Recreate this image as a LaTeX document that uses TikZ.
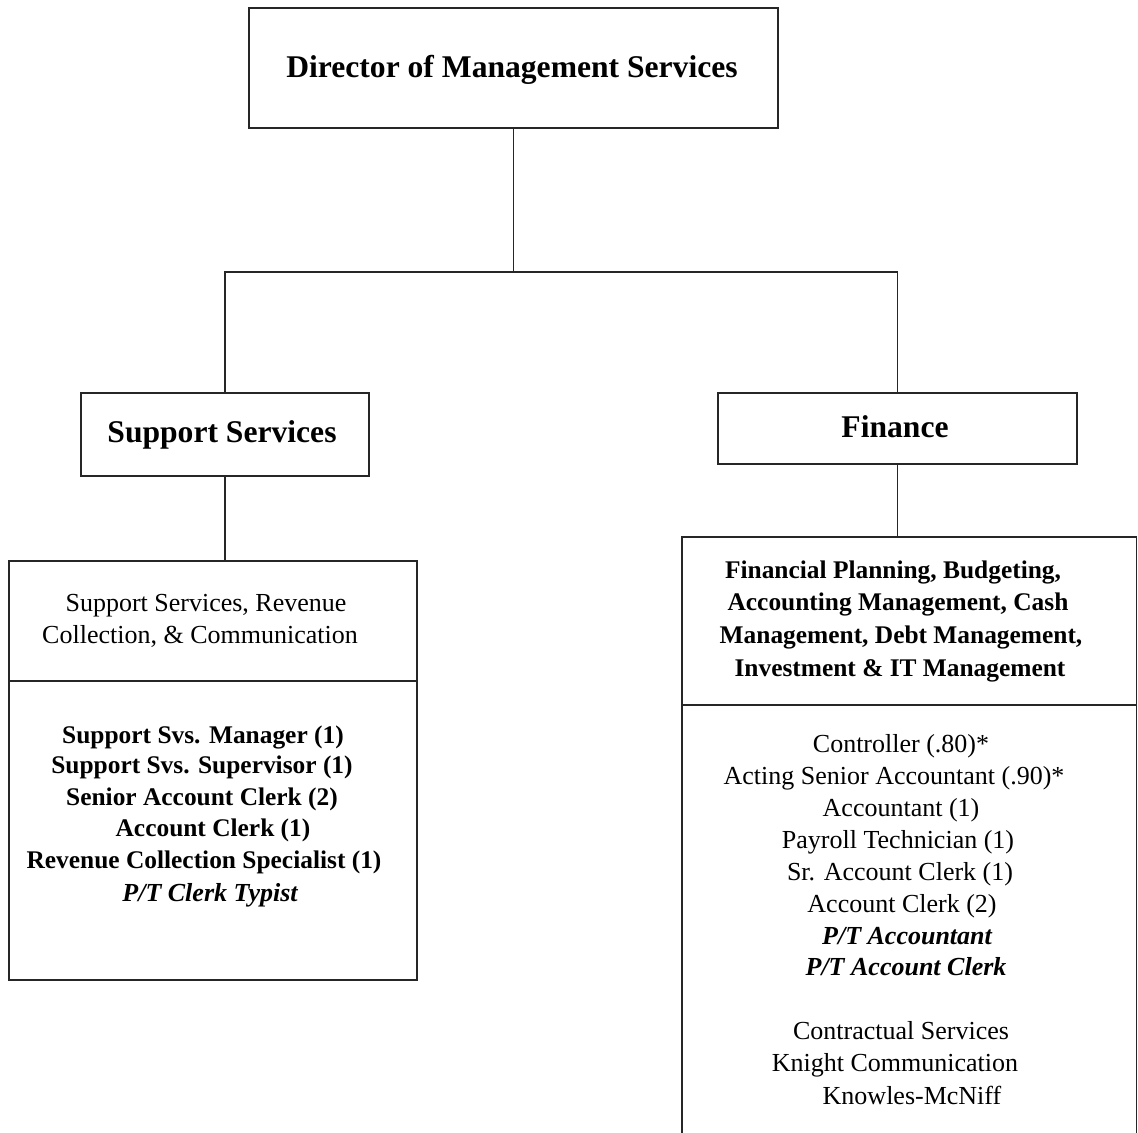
\documentclass[tikz,border=0pt]{standalone}
\usepackage{fontspec}
\setmainfont{Liberation Serif}
\begin{document}
\begin{tikzpicture}[x=0.5pt,y=-0.5pt,
  box/.style={draw=black!85, line width=0.8pt, rectangle, inner sep=0pt},
  wire/.style={draw=black!85, line width=0.8pt},
  head/.style={anchor=base, inner sep=0pt, font=\fontsize{15.8}{18}\selectfont\bfseries},
  txt/.style={anchor=base, inner sep=0pt, font=\fontsize{13}{15}\selectfont},
  btxt/.style={txt, font=\fontsize{12.7}{15}\selectfont\bfseries},
  itxt/.style={txt, font=\fontsize{13}{15}\selectfont\bfseries\itshape}]
\useasboundingbox (0,0) rectangle (1138,1132);
\fill[white] (0,0) rectangle (1138,1132);
\clip (0,0) rectangle (1138,1132);

% boxes
\node[box, minimum width=264.5pt, minimum height=60pt] (dir) at (513.5,68) {};
\node[box, minimum width=144pt, minimum height=41.5pt] (sup) at (225,434.5) {};
\node[box, minimum width=179.5pt, minimum height=35.5pt] (fin) at (897.5,428.5) {};
\node[box, minimum width=204pt, minimum height=209.5pt] (supbox) at (213,770.5) {};
\node[box, minimum width=227.25pt, minimum height=311.5pt] (finbox) at (909.25,848.5) {};
\coordinate (supdiv) at (213,681);
\coordinate (findiv) at (909.25,705);
\draw[wire] (supbox.west |- supdiv) -- (supbox.east |- supdiv);
\draw[wire] (finbox.west |- findiv) -- (finbox.east |- findiv);

% connectors
\coordinate (jn) at (513.5,272);
\draw[wire] (dir.south) -- (jn);
\draw[wire] (sup.north) |- (jn) -| (fin.north);
\draw[wire] (sup.south) -- (sup.south |- supbox.north);
\draw[wire] (fin.south) -- (fin.south |- finbox.north);

% titles
\node[head] (tdir) at (512,77) {Director of Management Services};
\node[head] (tsup) at (222,442) {Support Services};
\node[head] (tfin) at (895,437) {Finance};

% support services panel
\node[txt] (s1) at (206,611) {Support Services, Revenue};
\node[txt] (s2) at (200,643) {Collection, \& Communication};
\node[btxt] (s3) at (203,743) {Support Svs. Manager (1)};
\node[btxt] (s4) at (202,773) {Support Svs. Supervisor (1)};
\node[btxt] (s5) at (202,805) {Senior Account Clerk (2)};
\node[btxt] (s6) at (213,836) {Account Clerk (1)};
\node[btxt] (s7) at (204,868) {Revenue Collection Specialist (1)};
\node[itxt] (s8) at (210,901) {P/T Clerk Typist};

% finance panel
\node[btxt] (f1) at (893,578) {Financial Planning, Budgeting,};
\node[btxt] (f2) at (898,610) {Accounting Management, Cash};
\node[btxt] (f3) at (901,643) {Management, Debt Management,};
\node[btxt] (f4) at (900,676) {Investment \& IT Management};
\node[txt] (f5) at (901,752) {Controller (.80)*};
\node[txt] (f6) at (894,784) {Acting Senior Accountant (.90)*};
\node[txt] (f7) at (901,816) {Accountant (1)};
\node[txt] (f8) at (898,848) {Payroll Technician (1)};
\node[txt] (f9) at (900,880) {Sr. Account Clerk (1)};
\node[txt] (f10) at (902,912) {Account Clerk (2)};
\node[itxt] (f11) at (907,944) {P/T Accountant};
\node[itxt] (f12) at (906,975) {P/T Account Clerk};
\node[txt] (f13) at (901,1039) {Contractual Services};
\node[txt] (f14) at (895,1071) {Knight Communication};
\node[txt] (f15) at (912,1104) {Knowles-McNiff};
\end{tikzpicture}
\end{document}
